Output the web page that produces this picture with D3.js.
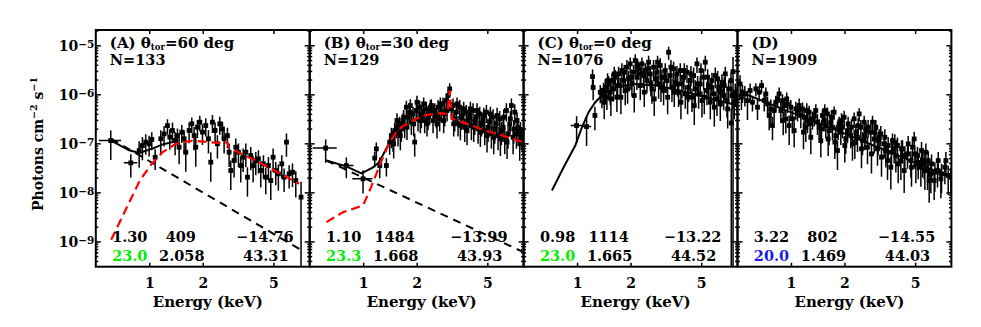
<!DOCTYPE html>
<html><head><meta charset="utf-8">
<script src="https://cdn.jsdelivr.net/npm/d3@7"></script>
<style>
body{margin:0;background:#fff}
svg{display:block}
text{font-family:"DejaVu Serif",serif;font-weight:bold;fill:#000}
</style>
</head><body>
<svg id="c" width="981" height="327"></svg>
<script>
// ---------------- data ----------------
const energyTicks = [1, 2, 5];
const fluxTicks = [1e-9, 1e-8, 1e-7, 1e-6, 1e-5];
const energyDomain = [0.5, 8];
const fluxDomain = [3.05e-10, 2.05e-5];

const panelLetters = ["(A)", "(B)", "(C)", "(D)"];
const thetaTor = ["60", "30", "0", null];
const counts = [133, 129, 1076, 1909];
const fitRow1 = [["1.30", "409", "−14.76"], ["1.10", "1484", "−13.99"], ["0.98", "1114", "−13.22"], ["3.22", "802", "−14.55"]];
const fitRow2 = [["23.0", "2.058", "43.31"], ["23.3", "1.668", "43.93"], ["23.0", "1.665", "44.52"], ["20.0", "1.469", "44.03"]];
const nhColors = ["#00ee00", "#00ee00", "#00ee00", "#1a1aee"];

// spectra: [energy keV, flux, relative error, half bin width keV (optional)]
const spectrumA = [
 [0.607,1.14e-7,0.6,0.087],[0.787,4.0e-8,0.5,0.068],[0.877,7.1e-8,0.55],[0.915,9.0e-8,0.5],[0.955,1.06e-7,0.45],
 [0.998,9.8e-8,0.45],[1.033,1.2e-7,0.4],[1.079,5.2e-8,0.45],[1.161,1.24e-7,0.5],[1.212,1.56e-7,0.45],
 [1.266,2.3e-7,0.35],[1.305,1.34e-7,0.45],[1.351,1.83e-7,0.45],[1.398,1.14e-7,0.5],[1.441,1.44e-7,0.4],
 [1.472,8.35e-8,0.55],[1.524,1.69e-7,0.4],[1.571,1.24e-7,0.5],[1.605,6.6e-8,0.6],[1.676,1.83e-7,0.45],
 [1.735,2.5e-7,0.35],[1.788,1.44e-7,0.5],[1.827,8.35e-8,0.6],[1.867,2.14e-7,0.4],[1.925,2.7e-7,0.35],
 [1.993,1.69e-7,0.45],[2.080,2.31e-7,0.4],[2.153,1.24e-7,0.5],[2.219,4.13e-8,0.6],[2.268,2.7e-7,0.4],
 [2.347,1.83e-7,0.45],[2.419,9.8e-8,0.5],[2.494,2.5e-7,0.4],[2.582,1.97e-7,0.4],[2.638,1.24e-7,0.5],
 [2.755,1.44e-7,0.45],[2.815,6.6e-8,0.5],[2.876,2.79e-8,0.6],[3.003,4.46e-8,0.55],[3.069,8.35e-8,0.5],
 [3.177,6.6e-8,0.5],[3.274,3.53e-8,0.55],[3.375,5.22e-8,0.5],[3.495,6.6e-8,0.5],[3.570,2.04e-8,0.6],
 [3.727,5.64e-8,0.5],[3.842,3.53e-8,0.55],[3.977,4.46e-8,0.5],[4.117,4.83e-8,0.5],[4.243,2.79e-8,0.55],
 [4.392,3.82e-8,0.5],[4.527,2.04e-8,0.55],[4.686,3.53e-8,0.5],[4.830,1.75e-8,0.6],[4.978,5.22e-8,0.5],
 [5.15,2.79e-8,0.5],[5.33,2.39e-8,0.55],[5.57,3.82e-8,0.5],[5.74,2.04e-8,0.5],[5.92,1.06e-7,0.5],
 [6.13,2.39e-8,0.5],[6.40,2.58e-8,0.5],[6.68,1.75e-8,0.55],[7.15,8.0e-9,1.05]
];
const spectrumB = [
 [0.615,8.0e-8,0.5,0.095],[0.804,3.53e-8,0.45,0.078],[0.998,1.89e-8,0.5,0.13],[1.161,5.0e-8,0.35],[1.186,7.72e-8,0.35],
 [1.24,3.53e-8,0.45],[1.351,3.53e-8,0.4],
 [1.410,1.06e-7,0.45],[1.441,1.44e-7,0.45],[1.472,1.23e-7,0.45],[1.504,1.82e-7,0.45],[1.537,2.13e-7,0.4],
 [1.571,1.56e-7,0.45],[1.605,2.50e-7,0.4],[1.640,1.97e-7,0.45],[1.676,2.92e-7,0.4],[1.713,2.31e-7,0.45],
 [1.750,5.46e-7,0.35],[1.788,3.41e-7,0.4],[1.827,4.32e-7,0.4],[1.867,2.70e-7,0.45],[1.908,3.99e-7,0.4],
 [1.950,1.06e-7,0.5],[1.992,4.67e-7,0.4],[2.036,3.16e-7,0.45],[2.080,5.46e-7,0.35],[2.126,3.69e-7,0.45],
 [2.172,4.32e-7,0.4],[2.219,2.92e-7,0.45],[2.268,5.05e-7,0.4],[2.318,3.41e-7,0.45],[2.368,3.99e-7,0.4],
 [2.420,5.90e-7,0.35],[2.473,2.92e-7,0.45],[2.527,4.67e-7,0.4],[2.582,3.69e-7,0.45],[2.639,5.46e-7,0.4],
 [2.696,3.16e-7,0.45],[2.755,4.32e-7,0.4],[2.815,6.38e-7,0.35],[2.877,3.99e-7,0.45],[2.940,7.47e-7,0.35],
 [3.004,9.44e-7,0.3],[3.069,1.29e-6,0.3],[3.136,5.05e-7,0.4],[3.205,5.90e-7,0.4],[3.275,3.16e-7,0.45],
 [3.347,4.32e-7,0.4],[3.420,2.50e-7,0.45],[3.495,5.46e-7,0.4],[3.571,3.41e-7,0.45],[3.649,3.99e-7,0.45],
 [3.729,2.13e-7,0.5],[3.810,4.32e-7,0.4],[3.894,2.92e-7,0.45],[3.979,3.69e-7,0.45],[4.066,2.31e-7,0.5],
 [4.155,4.67e-7,0.4],[4.245,2.70e-7,0.45],[4.338,3.41e-7,0.45],[4.433,1.97e-7,0.5],[4.530,3.99e-7,0.4],
 [4.629,2.50e-7,0.45],[4.730,2.92e-7,0.45],[4.833,1.82e-7,0.5],[4.939,4.32e-7,0.4],[5.047,2.13e-7,0.5],
 [5.157,2.70e-7,0.45],[5.270,1.56e-7,0.5],[5.385,3.41e-7,0.45],[5.503,1.97e-7,0.5],[5.623,2.50e-7,0.45],
 [5.746,1.44e-7,0.5],[5.871,3.16e-7,0.45],[6.000,1.82e-7,0.5],[6.131,2.13e-7,0.5],[6.265,1.33e-7,0.55],
 [6.401,4.67e-7,0.4],[6.541,1.56e-7,0.5],[6.684,2.50e-7,0.45],[6.830,5.90e-7,0.4],[6.980,1.33e-7,0.55],
 [7.132,4.32e-7,0.45],[7.288,1.56e-7,0.5],[7.447,2.13e-7,0.5],[7.610,9.77e-8,0.55],[7.776,1.44e-7,0.5],
 [7.946,1.23e-7,0.5],
 [1.485,9.77e-8,0.5],[1.550,2.92e-7,0.4],[1.619,1.44e-7,0.5],[1.690,3.41e-7,0.4],[1.765,2.13e-7,0.45],
 [1.843,5.90e-7,0.35],[1.925,2.50e-7,0.45],[2.009,6.90e-7,0.35],[2.098,2.92e-7,0.45],[2.191,6.38e-7,0.35],
 [2.288,2.50e-7,0.45],[2.389,5.46e-7,0.4],[2.494,4.32e-7,0.4],[2.604,2.50e-7,0.5],[2.719,6.38e-7,0.35],
 [2.839,2.92e-7,0.45],[2.966,4.67e-7,0.4],[3.233,2.50e-7,0.45],[3.376,6.38e-7,0.35],[3.525,2.31e-7,0.5],
 [3.681,5.05e-7,0.4],[3.843,1.82e-7,0.5],[4.014,5.05e-7,0.4],[4.191,2.13e-7,0.5],[4.376,4.67e-7,0.4],
 [4.569,1.69e-7,0.5],[4.771,3.69e-7,0.45],[4.982,1.44e-7,0.55],[5.202,3.99e-7,0.4],[5.432,1.33e-7,0.55],
 [5.672,3.69e-7,0.45],[5.922,1.23e-7,0.55],[6.184,3.41e-7,0.45],[6.457,1.06e-7,0.55],[6.742,3.16e-7,0.45],
 [7.041,1.97e-7,0.5],[7.351,2.92e-7,0.45],[7.676,1.82e-7,0.5]
];
const spectrumC = [
 [0.994,2.31e-7,0.55,0.075],[1.131,2.2e-7,0.6,0.07],[1.222,2.3e-6,0.4],[1.232,1.38e-6,0.45],[1.26,3.7e-7,0.5],
 [1.351,1.10e-6,0.4],[1.380,9.44e-7,0.45],[1.410,1.194e-6,0.45],[1.441,1.397e-6,0.45],[1.472,8.73e-7,0.45],
 [1.504,1.633e-6,0.45],[1.537,1.104e-6,0.45],[1.571,1.91e-6,0.4],[1.605,1.291e-6,0.45],[1.640,2.234e-6,0.4],
 [1.676,8.73e-7,0.5],[1.713,2.613e-6,0.4],[1.750,1.51e-6,0.45],[1.788,3.056e-6,0.4],[1.827,1.91e-6,0.45],
 [1.867,1.194e-6,0.5],[1.908,3.574e-6,0.4],[1.950,2.066e-6,0.45],[1.992,4.18e-6,0.35],[2.036,1.633e-6,0.45],
 [2.080,2.826e-6,0.4],[2.126,4.89e-6,0.35],[2.172,2.234e-6,0.45],[2.219,3.305e-6,0.4],[2.268,1.51e-6,0.5],
 [2.318,4.18e-6,0.35],[2.368,2.416e-6,0.45],[2.420,3.056e-6,0.4],[2.473,1.91e-6,0.45],[2.527,4.52e-6,0.35],
 [2.582,2.613e-6,0.45],[2.639,1.291e-6,0.5],[2.696,3.574e-6,0.4],[2.755,2.066e-6,0.45],[2.815,2.826e-6,0.4],
 [2.877,1.633e-6,0.5],[2.940,3.865e-6,0.4],[3.004,2.234e-6,0.45],[3.069,1.194e-6,0.5],[3.136,3.056e-6,0.4],
 [3.205,1.91e-6,0.45],[3.275,7.2e-6,0.3],[3.347,2.416e-6,0.45],[3.420,1.397e-6,0.5],[3.495,3.305e-6,0.4],
 [3.571,1.766e-6,0.45],[3.649,2.613e-6,0.45],[3.729,1.104e-6,0.5],[3.810,3.056e-6,0.4],[3.894,1.633e-6,0.5],
 [3.979,2.234e-6,0.45],[4.066,1.021e-6,0.5],[4.155,2.826e-6,0.4],[4.245,1.397e-6,0.5],[4.338,1.91e-6,0.45],
 [4.433,8.73e-7,0.5],[4.530,2.416e-6,0.45],[4.629,1.291e-6,0.5],[4.730,4.18e-6,0.35],[4.833,1.021e-6,0.5],
 [4.939,1.633e-6,0.45],[5.047,7.47e-7,0.55],[5.157,2.234e-6,0.45],[5.270,4.52e-6,0.35],[5.385,1.194e-6,0.5],
 [5.503,1.51e-6,0.5],[5.623,6.90e-7,0.55],[5.746,1.91e-6,0.45],[5.871,1.021e-6,0.5],[6.000,2.416e-6,0.45],
 [6.131,8.07e-7,0.55],[6.265,1.397e-6,0.5],[6.401,6.38e-7,0.55],[6.541,1.766e-6,0.45],[6.684,9.44e-7,0.5],
 [6.830,2.613e-6,0.4],[6.980,7.47e-7,0.55],[7.132,1.291e-6,0.5],[7.38,2.6e-7,1.0],[7.447,9.44e-7,0.5],
 [7.55,2.9e-6,1.0],[7.776,1.104e-6,0.5],[7.946,8.73e-7,0.5],
 [1.422,6.90e-7,0.55],[1.485,1.91e-6,0.4],[1.550,8.07e-7,0.55],[1.619,2.613e-6,0.4],[1.690,1.51e-6,0.45],
 [1.765,8.73e-7,0.55],[1.843,2.826e-6,0.4],[1.925,1.291e-6,0.5],[2.009,2.234e-6,0.45],[2.098,9.44e-7,0.55],
 [2.191,3.865e-6,0.35],[2.288,2.613e-6,0.4],[2.389,1.104e-6,0.5],[2.494,3.305e-6,0.4],[2.604,1.633e-6,0.45],
 [2.719,8.07e-7,0.55],[2.839,4.52e-6,0.35],[2.966,1.397e-6,0.5],[3.096,2.234e-6,0.45],[3.233,8.73e-7,0.55],
 [3.376,3.574e-6,0.4],[3.525,1.104e-6,0.5],[3.681,1.633e-6,0.45],[3.843,6.90e-7,0.55],[4.014,3.056e-6,0.4],
 [4.191,8.73e-7,0.55],[4.376,2.613e-6,0.45],[4.569,5.90e-7,0.6],[4.771,1.633e-6,0.45],[4.982,3.056e-6,0.4],
 [5.202,8.73e-7,0.55],[5.432,2.234e-6,0.45],[5.672,1.397e-6,0.5],[5.922,5.46e-7,0.6],[6.184,2.066e-6,0.45],
 [6.457,1.104e-6,0.5],[6.742,1.51e-6,0.5],[7.041,5.05e-7,0.6],[7.351,1.91e-6,0.45],[7.676,6.90e-7,0.55]
];
const spectrumD = [
 [0.517,1.633e-6,0.5],[0.533,1.104e-6,0.4],[0.550,1.021e-6,0.45],[0.569,7.47e-7,0.6],[0.607,6.90e-7,0.35],
 [0.634,1.291e-6,0.3],[0.662,1.104e-6,0.35],[0.683,1.51e-6,0.3],[0.707,7.47e-7,0.4],[0.738,6.38e-7,0.4],
 [0.770,5.05e-7,0.55],[0.787,2.31e-7,0.5],[0.822,6.90e-7,0.35],[0.840,8.07e-7,0.35],[0.877,4.67e-7,0.45],
 [0.896,7.47e-7,0.35],[0.915,5.90e-7,0.4],[0.935,3.16e-7,0.5],[0.955,6.38e-7,0.35],[0.977,2.31e-7,0.6],
 [0.998,5.46e-7,0.4],[1.042,1.82e-7,0.55],[1.065,5.05e-7,0.4],[1.088,4.67e-7,0.4],[1.136,3.69e-7,0.45],
 [1.161,5.05e-7,0.35],[1.186,3.41e-7,0.45],[1.212,2.13e-7,0.5],[1.239,2.92e-7,0.45],[1.266,4.32e-7,0.35],
 [1.293,1.33e-7,0.55],[1.322,3.16e-7,0.4],[1.351,3.69e-7,0.4],[1.410,2.70e-7,0.45],[1.441,2.13e-7,0.45],
 [1.472,1.14e-7,0.55],[1.504,3.69e-7,0.35],[1.537,2.92e-7,0.4],[1.571,2.31e-7,0.45],[1.605,3.99e-7,0.35],
 [1.640,1.82e-7,0.5],[1.676,2.70e-7,0.4],[1.713,2.13e-7,0.45],[1.750,4.32e-7,0.3],[1.788,1.44e-7,0.5],
 [1.827,7.14e-8,0.6],[1.867,2.50e-7,0.4],[1.908,1.69e-7,0.45],[1.950,2.13e-7,0.4],[1.992,3.41e-7,0.35],
 [2.036,1.23e-7,0.5],[2.080,1.82e-7,0.45],[2.172,1.44e-7,0.45],[2.219,9.77e-8,0.55],[2.268,3.16e-7,0.35],
 [2.318,1.69e-7,0.45],[2.368,1.33e-7,0.5],[2.420,3.99e-7,0.3],[2.473,2.13e-7,0.4],[2.527,1.14e-7,0.5],
 [2.582,2.70e-7,0.35],[2.639,1.82e-7,0.45],[2.696,8.35e-8,0.55],[2.815,1.69e-7,0.45],[2.877,2.70e-7,0.35],
 [2.940,1.23e-7,0.5],[3.004,2.13e-7,0.4],[3.069,7.72e-8,0.55],[3.136,1.33e-7,0.45],[3.205,1.56e-7,0.45],
 [3.347,9.77e-8,0.5],[3.420,7.14e-8,0.55],[3.495,4.46e-8,0.6],[3.649,3.26e-8,0.65],[3.729,1.14e-7,0.4],
 [3.810,7.72e-8,0.5],[3.894,5.64e-8,0.55],[3.979,9.03e-8,0.45],[4.155,4.46e-8,0.6],[4.245,7.72e-8,0.5],
 [4.338,2.79e-8,0.65],[4.530,6.10e-8,0.5],[4.730,4.46e-8,0.55],[4.833,8.35e-8,0.45],[4.939,1.23e-7,0.4],
 [5.047,3.82e-8,0.6],[5.157,5.64e-8,0.5],[5.385,3.26e-8,0.6],[5.503,4.46e-8,0.55],[5.623,4.1e-8,0.55],
 [5.746,6.60e-8,0.5],[5.871,2.79e-8,0.6],[6.000,1.75e-8,0.65],[6.131,2.39e-8,0.6],[6.401,1.75e-8,0.6],
 [6.684,2.79e-8,0.55],[6.980,1.89e-8,0.6],[7.447,4.46e-8,0.5],[7.946,2.04e-8,0.55],
 [0.526,8.73e-7,0.45],[0.589,1.194e-6,0.4],[0.648,5.46e-7,0.45],[0.722,1.021e-6,0.35],[0.754,3.69e-7,0.5],
 [0.804,4.67e-7,0.45],[0.858,1.021e-6,0.35],[0.904,2.92e-7,0.5],[0.947,8.07e-7,0.35],[1.020,3.16e-7,0.5],
 [1.112,5.90e-7,0.4],[1.176,1.69e-7,0.55],[1.228,4.67e-7,0.4],[1.282,2.50e-7,0.5],[1.380,4.67e-7,0.35],
 [1.485,1.97e-7,0.5],[1.550,4.67e-7,0.35],[1.619,1.23e-7,0.55],[1.690,3.41e-7,0.4],[1.765,1.06e-7,0.55],
 [1.843,2.13e-7,0.45],[1.925,2.92e-7,0.4],[2.009,9.03e-8,0.55],[2.098,2.50e-7,0.4],[2.191,2.13e-7,0.45],
 [2.288,1.06e-7,0.55],[2.389,2.31e-7,0.4],[2.494,7.72e-8,0.6],[2.604,1.44e-7,0.5],[2.719,2.13e-7,0.4],
 [2.839,6.10e-8,0.6],[2.966,1.69e-7,0.45],[3.096,1.14e-7,0.5],[3.233,5.22e-8,0.6],[3.376,1.33e-7,0.45],
 [3.525,9.03e-8,0.5],[3.681,6.60e-8,0.55],[3.843,1.06e-7,0.45],[4.014,3.82e-8,0.6],[4.191,7.72e-8,0.5],
 [4.376,5.64e-8,0.55],[4.569,9.77e-8,0.45],[4.771,3.26e-8,0.6],[4.982,6.10e-8,0.5],[5.202,4.13e-8,0.55],
 [5.432,7.14e-8,0.5],[5.672,2.79e-8,0.6],[5.922,4.46e-8,0.55],[6.184,3.82e-8,0.55],[6.457,2.58e-8,0.6],
 [6.742,4.46e-8,0.5],[7.041,2.39e-8,0.6],[7.351,3.26e-8,0.55],[7.676,2.21e-8,0.6]
];

// model curves: [energy keV, flux]
const totalModelA = [[0.61,1.14e-7],[0.77,7.2e-8],[0.88,6.4e-8],[1.04,7.8e-8],[1.19,9.5e-8],[1.35,1.06e-7],[1.45,1.08e-7]];
const absorbedModelA = [[0.61,1.08e-9],[0.885,1.75e-8],[1.03,3.8e-8],[1.19,6.6e-8],[1.41,9.8e-8],[1.75,1.14e-7],[2.17,1.06e-7],[2.66,9.9e-8],[2.74,1.07e-7],[2.80,8.2e-8],[4.33,3.8e-8],[6.97,1.5e-8]];
const scatteredModelA = [[0.61,1.24e-7],[7.0,7.0e-10]];
const totalModelB = [[0.621,4.46e-8],[0.804,3.4e-8],[0.977,2.45e-8],[1.13,3.2e-8],[1.21,3.9e-8],[1.293,5.8e-8],[1.41,1.06e-7],[1.54,1.72e-7]];
const absorbedModelB = [[0.621,2.47e-9],[0.77,3.95e-9],[0.998,5.41e-9],[1.088,1.09e-8],[1.186,2.39e-8],[1.293,5.22e-8],[1.41,1.06e-7],[1.537,1.69e-7],[1.64,2.14e-7],[1.827,2.7e-7],[2.17,3.7e-7],[2.70,4.12e-7],[2.98,3.99e-7],[3.07,1.2e-6],[3.16,3.2e-7],[3.35,2.92e-7],[3.98,2.42e-7],[4.73,1.87e-7],[5.62,1.56e-7],[6.68,1.30e-7],[7.93,1.06e-7]];
const scatteredModelB = [[0.62,4.47e-8],[7.87,6.2e-10]];
const totalModelC = [[0.722,1.09e-8],[0.840,3.26e-8],[0.977,9.03e-8],[1.065,2.13e-7],[1.161,4.32e-7],[1.266,6.9e-7],[1.41,1.02e-6],[1.676,1.4e-6],[2.08,1.63e-6],[2.815,1.51e-6],[3.81,1.19e-6],[5.157,9.0e-7],[6.684,7.0e-7],[7.95,6.0e-7]];
const totalModelD = [[0.522,1.1e-6],[1.99,1.6e-7],[7.95,2.04e-8]];

const panels = [
  {data: spectrumA, total: totalModelA, absorbed: absorbedModelA, scattered: scatteredModelA},
  {data: spectrumB, total: totalModelB, absorbed: absorbedModelB, scattered: scatteredModelB},
  {data: spectrumC, total: totalModelC},
  {data: spectrumD, total: totalModelD}
];

// ---------------- layout ----------------
const left0 = 95.8, W = 213.9, plotTop = 30, plotBottom = 266.7;
const svg = d3.select("#c");
const x = d3.scaleLog().domain(energyDomain).range([0, W]);
const y = d3.scaleLog().domain(fluxDomain).range([plotBottom, plotTop]);
const line = d3.line().x(d => x(d[0])).y(d => y(d[1]));

const minorTicks = [];
for (let e = -10; e <= -5; e++) for (let m = 2; m <= 9; m++) {
  const v = m * Math.pow(10, e);
  if (v > fluxDomain[0] && v < fluxDomain[1]) minorTicks.push(v);
}

function styleAxis(sel) {
  sel.select(".domain").remove();
  sel.selectAll(".tick line").attr("stroke", "#000").attr("stroke-width", 1.5);
}

panels.forEach((p, i) => {
  const g = svg.append("g").attr("transform", `translate(${left0 + i * W},0)`);
  const clipId = "clip" + i;
  g.append("clipPath").attr("id", clipId).append("rect")
    .attr("x", 0).attr("y", plotTop).attr("width", W).attr("height", plotBottom - plotTop);
  const plot = g.append("g").attr("clip-path", `url(#${clipId})`);

  const pts = plot.append("g").selectAll("g").data(p.data).join("g");
  pts.append("line")
    .attr("x1", d => x(d[0])).attr("x2", d => x(d[0]))
    .attr("y1", d => y(d[1] * (1 + d[2])))
    .attr("y2", d => y(Math.max(d[1] * (1 - d[2]), fluxDomain[0] * 0.5)))
    .attr("stroke", "#000").attr("stroke-width", 1.5);
  pts.filter(d => d[3]).append("line")
    .attr("x1", d => x(d[0] - d[3])).attr("x2", d => x(d[0] + d[3]))
    .attr("y1", d => y(d[1])).attr("y2", d => y(d[1]))
    .attr("stroke", "#000").attr("stroke-width", 1.5);
  pts.append("rect")
    .attr("x", d => x(d[0]) - 2.4).attr("y", d => y(d[1]) - 2.4)
    .attr("width", 4.8).attr("height", 4.8).attr("fill", "#000");

  plot.append("path").attr("d", line(p.total)).attr("fill", "none")
    .attr("stroke", "#000").attr("stroke-width", 2);
  if (p.scattered) plot.append("path").attr("d", line(p.scattered)).attr("fill", "none")
    .attr("stroke", "#000").attr("stroke-width", 2).attr("stroke-dasharray", "8,6");
  if (p.absorbed) plot.append("path").attr("d", line(p.absorbed)).attr("fill", "none")
    .attr("stroke", "#ff0000").attr("stroke-width", 2.2).attr("stroke-dasharray", "9,5");

  // axes
  g.append("g").attr("transform", `translate(0,${plotBottom})`)
    .call(d3.axisBottom(x).tickValues(energyTicks).tickFormat(d3.format("d")).tickSizeInner(-4).tickSizeOuter(0).tickPadding(11))
    .call(styleAxis)
    .call(s => s.selectAll("text").attr("font-size", 14).attr("font-family", "DejaVu Serif").attr("font-weight", "bold").attr("fill", "#000"));
  g.append("g").attr("transform", `translate(0,${plotTop})`)
    .call(d3.axisTop(x).tickValues(energyTicks).tickFormat("").tickSizeInner(-4).tickSizeOuter(0))
    .call(styleAxis);
  [[d3.axisLeft, 0], [d3.axisRight, W]].forEach(([ax, tx]) => {
    g.append("g").attr("transform", `translate(${tx},0)`)
      .call(ax(y).tickValues(fluxTicks).tickFormat("").tickSizeInner(-5).tickSizeOuter(0))
      .call(styleAxis);
    g.append("g").attr("transform", `translate(${tx},0)`)
      .call(ax(y).tickValues(minorTicks).tickFormat("").tickSizeInner(-2.5).tickSizeOuter(0))
      .call(styleAxis);
  });

  g.append("rect").attr("x", 0).attr("y", plotTop).attr("width", W).attr("height", plotBottom - plotTop)
    .attr("fill", "none").attr("stroke", "#000").attr("stroke-width", 2);

  // title
  const t = g.append("text").attr("x", 14).attr("y", 47.5).attr("font-size", 15);
  if (thetaTor[i] !== null) {
    t.append("tspan").text(panelLetters[i] + " θ");
    t.append("tspan").attr("font-size", 8.5).attr("dy", 2).text("tor");
    t.append("tspan").attr("dy", -2).text("=" + thetaTor[i] + " deg");
  } else {
    t.text(panelLetters[i]);
  }
  g.append("text").attr("x", 14).attr("y", 65).attr("font-size", 14.5).text("N=" + counts[i]);

  // fit results
  const cols = [34, 85, 169];
  fitRow1[i].forEach((s, k) => g.append("text").attr("x", cols[k]).attr("y", 242)
    .attr("text-anchor", "middle").attr("font-size", 14.5).text(s));
  fitRow2[i].forEach((s, k) => g.append("text").attr("x", cols[k] + (k === 0 ? 0 : 1)).attr("y", 260.5)
    .attr("text-anchor", "middle").attr("font-size", 14.5)
    .style("fill", k === 0 ? nhColors[i] : "#000").text(s));

  g.append("text").attr("x", W / 2 + 5).attr("y", 307).attr("text-anchor", "middle")
    .attr("font-size", 15).text("Energy (keV)");

  if (i === 0) {
    fluxTicks.forEach(v => {
      const lt = g.append("text").attr("x", -1.5).attr("y", y(v) + 6).attr("text-anchor", "end").attr("font-size", 14);
      lt.append("tspan").text("10");
      lt.append("tspan").attr("font-size", 10.5).attr("dy", -3.5).text("−" + Math.round(-Math.log10(v)));
    });
  }
});

// y label
const yl = svg.append("text").attr("transform", "translate(43,144) rotate(-90)")
  .attr("text-anchor", "middle").attr("font-size", 14);
yl.append("tspan").text("Photons cm");
yl.append("tspan").attr("font-size", 9.5).attr("dy", -6).text("−2");
yl.append("tspan").attr("dy", 6).text(" s");
yl.append("tspan").attr("font-size", 9.5).attr("dy", -6).text("−1");
</script>
</body></html>
